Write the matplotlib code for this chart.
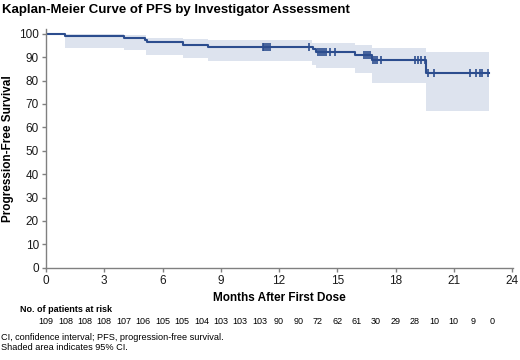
import numpy as np
import matplotlib
matplotlib.use("Agg")
import matplotlib.pyplot as plt

plt.rcParams['font.family'] = ['Liberation Sans', 'DejaVu Sans']

# ---- data ----
event_times = [0, 1.0, 4.0, 5.12, 5.2, 7.06, 8.35, 13.75, 13.92, 15.9, 16.8, 19.58]
survival = [100, 99.1, 98.2, 97.2, 96.3, 95.4, 94.4, 93.3, 92.1, 90.8, 88.6, 83.3]
end_time = 22.8

ci_times = [0, 1.0, 4.0, 5.15, 7.06, 8.35, 13.7, 13.93, 15.9, 16.8, 19.58]
ci_lower = [100, 93.8, 93.0, 90.9, 89.8, 88.3, 86.6, 85.2, 83.1, 79.1, 67.1]
ci_upper = [100, 100, 99.4, 98.3, 97.8, 97.3, 96.2, 95.9, 95.2, 93.8, 92.0]

censor_times = [11.15, 11.25, 11.35, 11.45, 11.55, 13.55,
                14.0, 14.1, 14.2, 14.3, 14.44, 14.65, 14.9,
                16.4, 16.5, 16.6, 16.7,
                16.86, 16.95, 17.05, 17.27,
                19.0, 19.15, 19.3, 19.5,
                19.67, 19.96,
                21.85, 22.15, 22.35, 22.45, 22.75]

risk_months = list(range(0, 24))
at_risk = [109, 108, 108, 108, 107, 106, 105, 105, 104, 103, 103, 103,
           90, 90, 72, 62, 61, 30, 29, 28, 10, 10, 9, 0]

x_ticks = [0, 3, 6, 9, 12, 15, 18, 21, 24]
y_ticks = [0, 10, 20, 30, 40, 50, 60, 70, 80, 90, 100]

line_color = '#2c4d8e'
band_color = '#dde3ee'
axis_color = '#808080'

W, H = 520, 360
fig = plt.figure(figsize=(W / 100, H / 100), dpi=100)
ax = fig.add_axes([46 / W, 1 - 267.7 / H, (513 - 46) / W, (267.7 - 29.3) / H])

# CI band
bx = list(ci_times) + [end_time]
bl = list(ci_lower) + [ci_lower[-1]]
bu = list(ci_upper) + [ci_upper[-1]]
ax.fill_between(bx, bl, bu, step='post', color=band_color, linewidth=0)

# KM curve
sx = list(event_times) + [end_time]
sy = list(survival) + [survival[-1]]
ax.step(sx, sy, where='post', color=line_color, linewidth=1.5)

# censor marks
idx = np.searchsorted(np.array(event_times), np.array(censor_times), side='right') - 1
cy = np.array(survival)[idx]
ax.plot(censor_times, cy, linestyle='none', marker='|', markersize=6,
        markeredgewidth=1.2, color=line_color)

ax.set_xlim(0, 24.05)
ax.set_ylim(0, 101.9)
ax.set_xticks(x_ticks)
ax.set_yticks(y_ticks)
for s in ['top', 'right']:
    ax.spines[s].set_visible(False)
for s in ['left', 'bottom']:
    ax.spines[s].set_color(axis_color)
    ax.spines[s].set_linewidth(1.0)
ax.tick_params(colors=axis_color, length=3, width=1.0, labelsize=8.5,
               labelcolor='#1a1a1a', pad=2)

ax.set_xlabel('Months After First Dose', fontsize=8.5, fontweight='bold', labelpad=4)
ax.set_ylabel('Progression-Free Survival', fontsize=8.5, fontweight='bold', labelpad=4)

fig.text(2 / W, 1 - 10 / H, 'Kaplan-Meier Curve of PFS by Investigator Assessment',
         fontsize=9.5, fontweight='bold', va='center', ha='left')

fig.text(20 / W, 1 - 309 / H, 'No. of patients at risk', fontsize=6.5,
         fontweight='bold', va='center', ha='left')

for m, n in zip(risk_months, at_risk):
    xd = ax.transData.transform((m, 0))[0]
    xf = fig.transFigure.inverted().transform((xd, 0))[0]
    fig.text(xf, 1 - 322 / H, str(n), fontsize=6.5, va='center', ha='center')

fig.text(1 / W, 1 - 337 / H, 'CI, confidence interval; PFS, progression-free survival.',
         fontsize=6.6, va='center', ha='left')
fig.text(1 / W, 1 - 348 / H, 'Shaded area indicates 95% CI.',
         fontsize=6.6, va='center', ha='left')

fig.savefig('out.png', dpi=100)
